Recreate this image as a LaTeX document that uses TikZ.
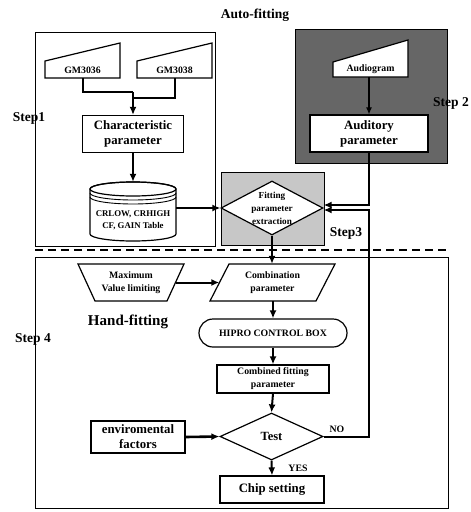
\documentclass[tikz,border=0pt]{standalone}
\usepackage{fontspec}
\setmainfont{Liberation Serif}
\usetikzlibrary{shapes.geometric,shapes.misc,arrows.meta}
\begin{document}
\begin{tikzpicture}[x=1pt,y=-1pt,
  box/.style={draw,line width=1.2pt,fill=white,inner sep=1pt,align=center,font=\bfseries\fontsize{12.8}{15}\selectfont},
  sbox/.style={draw,line width=1.2pt,fill=white,inner sep=1pt,align=center,font=\bfseries\fontsize{9.8}{13}\selectfont},
  txt/.style={inner sep=0pt,align=center,font=\bfseries\fontsize{9.8}{13}\selectfont},
  shp/.style={draw,line width=1.2pt,fill=white},
  conn/.style={line width=2pt},
  arr/.style={line width=2pt,-{Latex[length=8pt,width=7pt]}},
  frame/.style={draw,line width=0.9pt},
  lbl/.style={inner sep=0pt,font=\bfseries\fontsize{13.5}{15}\selectfont}
]
\useasboundingbox (0,0) rectangle (471,512);

% frames
\draw[frame] (35,32) rectangle (215,246);
\draw[frame,fill=black!60] (295,29) rectangle (447,163);
\draw[frame,fill=black!22] (221,172) rectangle (324,245);
\draw[line width=1.2pt,dash pattern=on 8pt off 5pt] (35,250) -- (448,250);
\draw[frame] (35,257) rectangle (448,508);

\node[lbl] (auto) at (255,15) {Auto-fitting};
\node[lbl] (s1) at (29,118) {Step1};
\node[lbl] (s2) at (451,103) {Step 2};
\node[lbl] (s3) at (346,233) {Step3};
\node[lbl] (s4) at (33,339) {Step 4};
\node[lbl,font=\bfseries\fontsize{15}{17}\selectfont] (hand) at (128,322) {Hand-fitting};

% Step 1
\draw[shp] (45,78) -- (120,78) -- (120,43) -- (45,61) -- cycle;
\node[txt,minimum width=75pt,minimum height=16pt] (gm1) at (82.5,70) {GM3036};
\draw[shp] (137,78) -- (212,78) -- (212,43) -- (137,61) -- cycle;
\node[txt,minimum width=75pt,minimum height=16pt] (gm2) at (174.5,70) {GM3038};
\node[box,minimum width=101pt,minimum height=37pt] (char) at (133,134) {Characteristic\\parameter};

% cylinder
\draw[shp] (90,189) -- (90,234) arc[start angle=180,end angle=360,x radius=43pt,y radius=7pt] -- (176,189) arc[start angle=0,end angle=180,x radius=43pt,y radius=7pt] -- cycle;
\draw[line width=1.2pt] (133,189) ellipse[x radius=43pt,y radius=7pt];
\draw[line width=0.9pt] (90,193) arc[start angle=180,end angle=360,x radius=43pt,y radius=7pt];
\draw[line width=0.9pt] (90,197) arc[start angle=180,end angle=360,x radius=43pt,y radius=7pt];
\node[inner sep=0pt,minimum width=86pt,minimum height=59pt] (cyl) at (133,211.5) {};
\node[txt,font=\bfseries\fontsize{8.8}{11.5}\selectfont] (cyltxt) at (133,220.5) {CRLOW, CRHIGH\\CF, GAIN Table};

\coordinate (j1) at (133,92);
\coordinate (j2) at (133,98);
\draw[conn] (gm1.south) |- (j1);
\draw[conn] (gm2.south) |- (j2);
\draw[arr] (j1) -- (char.north);
\draw[arr] (char.south) -- (cyl.north);

% Step 2
\draw[shp] (333,77) -- (408,77) -- (408,40) -- (333,62) -- cycle;
\node[txt,minimum width=75pt,minimum height=15pt] (aud) at (370.5,69.5) {Audiogram};
\node[box,minimum width=118pt,minimum height=37pt] (audp) at (369,133.5) {Auditory\\parameter};
\draw[line width=1.1pt,-{Latex[length=7pt,width=6pt]}] (aud.south -| audp.north) -- (audp.north);

% Step 3
\node[diamond,draw,line width=1.2pt,fill=white,minimum width=102pt,minimum height=54pt,inner sep=0pt] (fit) at (272,208) {};
\node[txt,font=\bfseries\fontsize{9.2}{13}\selectfont] (fittxt) at (272,208) {Fitting\\parameter\\extraction};

\draw[arr] (cyl.east |- fit.west) -- (fit.west);
\draw[arr] (audp.south) |- ([yshift=3pt]fit.east);

% Step 4
\draw[shp] (78,264) -- (184,264) -- (167,301) -- (95,301) -- cycle;
\node[txt,minimum width=89pt,minimum height=37pt] (maxv) at (131,282.5) {Maximum\\Value limiting};
\draw[shp] (210,301) -- (316,301) -- (335,264) -- (229,264) -- cycle;
\node[txt,minimum width=106pt,minimum height=37pt] (comb) at (272.5,282.5) {Combination\\parameter};
\node[rounded rectangle,draw,line width=1.2pt,fill=white,minimum width=150pt,minimum height=28pt,inner sep=1pt,font=\bfseries\fontsize{9.8}{12}\selectfont] (hipro) at (273,333) {HIPRO CONTROL BOX};
\node[sbox,minimum width=112pt,minimum height=28pt] (cfp) at (273,379) {Combined fitting\\parameter};
\node[diamond,draw,line width=1.2pt,fill=white,minimum width=103pt,minimum height=47pt,inner sep=0pt,font=\bfseries\fontsize{12.5}{14}\selectfont] (test) at (271.5,436.5) {Test};
\node[box,minimum width=94pt,minimum height=32pt] (env) at (138,437) {enviromental\\factors};
\node[box,minimum width=104pt,minimum height=27pt] (chip) at (272,489.5) {Chip setting};

\draw[arr] (fit.south) -- (comb.north -| fit.south);
\draw[arr] (maxv.east) -- (comb.west);
\draw[arr] (comb.south -| hipro.north) -- (hipro.north);
\draw[arr] (hipro.south) -- (cfp.north);
\draw[arr] (cfp.south) -- (test.north);
\draw[arr,line width=2.6pt] (env.east) -- (test.west);
\draw[arr] (test.south) -- (chip.north);
\coordinate (noc) at (369,436.5);
\draw[arr] (test.east) -- (noc) |- ([yshift=-2pt]fit.east);

\node[txt] (no) at (337,429) {NO};
\node[txt] (yes) at (298,468) {YES};
\end{tikzpicture}
\end{document}
